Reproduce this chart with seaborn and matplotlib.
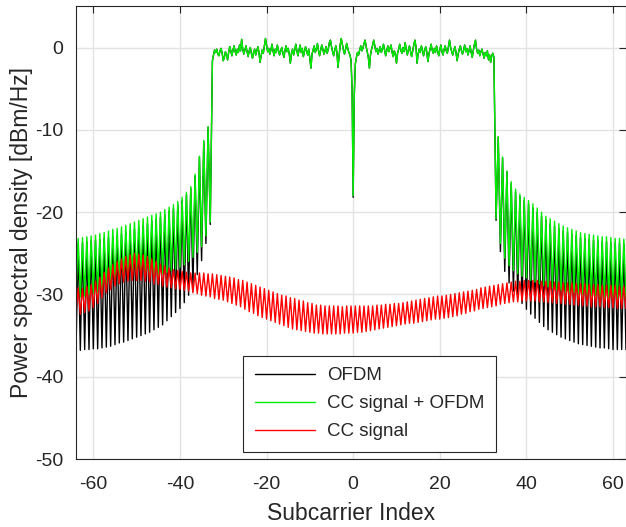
import numpy as np
import pandas as pd
import matplotlib
matplotlib.use("Agg")
import matplotlib.pyplot as plt
import seaborn as sns

# ---------------- data ----------------
series_names = ["OFDM", "CC signal + OFDM", "CC signal"]
series_colors = ["#000000", "#00ee00", "#ff0000"]

# OFDM, out-of-band, left side: troughs at -64..-33, peaks at -63.5..-33.5
ofdm_trough_left = [-36.7, -36.8, -36.7, -36.7, -36.6, -36.6, -36.5, -36.4, -36.3, -36.1,
                    -35.9, -35.8, -35.6, -35.4, -35.2, -35.0, -34.8, -34.6, -34.3, -34.0,
                    -33.7, -33.2, -32.7, -32.2, -31.7, -31.0, -30.1, -29.0, -27.6, -25.9,
                    -23.8, -21.5]
ofdm_peak_left = [-23.8, -23.7, -23.6, -23.5, -23.4, -23.3, -23.2, -23.1, -23.0, -22.9,
                  -22.7, -22.5, -22.3, -22.1, -21.9, -21.7, -21.4, -21.1, -20.9, -20.6,
                  -20.3, -19.9, -19.6, -19.1, -18.6, -17.9, -17.1, -15.6, -13.3, -11.4,
                  -9.7]
# OFDM, out-of-band, right side: troughs at 33..63, peaks at 33.5..62.5
ofdm_trough_right = [-21.0, -24.8, -27.2, -28.6, -29.6, -30.4, -31.1, -31.8, -32.4, -32.9,
                     -33.4, -33.9, -34.3, -34.6, -34.9, -35.2, -35.4, -35.6, -35.8, -36.0,
                     -36.1, -36.2, -36.3, -36.4, -36.5, -36.5, -36.6, -36.7, -36.7, -36.7,
                     -36.7]
ofdm_peak_right = [-10.9, -13.4, -15.1, -16.5, -17.5, -18.1, -18.6, -19.0, -19.5, -20.0,
                   -20.5, -21.0, -21.4, -21.7, -22.0, -22.3, -22.5, -22.7, -22.9, -23.1,
                   -23.2, -23.3, -23.4, -23.5, -23.6, -23.6, -23.7, -23.8, -23.8, -23.9]
ofdm_dc = [-18.2]

# CC signal + OFDM, out-of-band
ccofdm_trough_left = [-30.2, -30.3, -30.2, -30.0, -29.9, -29.7, -29.5, -29.2, -28.9, -28.6,
                      -28.3, -28.0, -27.8, -27.6, -27.5, -27.5, -27.5, -27.6, -27.6, -27.6,
                      -27.5, -27.3, -27.1, -26.9, -26.7, -26.4, -26.0, -25.5, -24.9, -24.2,
                      -22.9, -21.2]
ccofdm_peak_left = [-23.2, -23.1, -23.0, -22.9, -22.8, -22.6, -22.5, -22.3, -22.1, -22.0,
                    -21.8, -21.6, -21.4, -21.2, -21.0, -20.8, -20.6, -20.4, -20.2, -20.0,
                    -19.7, -19.4, -19.1, -18.7, -18.2, -17.6, -16.9, -15.4, -13.2, -11.3,
                    -9.6]
ccofdm_trough_right = [-20.8, -23.8, -25.6, -26.5, -27.1, -27.5, -27.8, -28.0, -28.3, -28.5,
                       -28.7, -28.9, -29.1, -29.2, -29.4, -29.5, -29.6, -29.7, -29.8, -29.9,
                       -30.0, -30.1, -30.2, -30.2, -30.3, -30.3, -30.4, -30.4, -30.5, -30.5,
                       -30.5]
ccofdm_peak_right = [-10.8, -13.3, -15.0, -16.3, -17.2, -17.8, -18.2, -18.6, -19.0, -19.5,
                     -20.0, -20.5, -20.8, -21.1, -21.4, -21.7, -21.9, -22.1, -22.3, -22.5,
                     -22.6, -22.7, -22.8, -22.9, -23.0, -23.0, -23.1, -23.2, -23.2, -23.3]
ccofdm_dc = [-18.0]

# In-band trace (both OFDM and CC+OFDM coincide there), quarter-subcarrier steps
inband_left = [-1.6, -0.9, -0.3, -0.6, -0.2, -0.8, -1.0, -0.4,
               -0.1, -0.7, -1.6, -1.2, -0.5, -0.9, -1.5, -0.6,
               0.1, -0.4, -1.0, -0.3, 0.2, -0.5, -0.9, -0.2,
               -0.6, 0.3, -0.4, 1.0, -0.2, -0.8, -0.3, 0.2,
               -0.5, -1.1, -0.4, 0.0, -0.7, -1.3, -0.6, -0.2,
               -0.9, -0.4, 0.1, -0.6, -1.8, -1.0, -0.3, -0.7,
               0.2, 1.1, 0.3, -0.5, -0.1, -0.8, -0.3, 0.4,
               -0.4, -1.0, -0.2, -0.6, 0.3, -0.3, -0.9, -0.5,
               0.0, -0.6, -1.2, -0.4, 0.2, -0.5, -0.1, -0.8,
               -1.9, -0.7, -0.2, -0.9, -0.3, 0.4, -0.4, -1.0,
               -0.3, 0.3, -0.6, -0.1, -1.1, -0.5, 0.1, -0.4,
               -0.9, -0.2, -1.4, -2.5, -0.8, -0.3, 0.2, -0.6,
               -0.2, 0.5, -0.4, -1.0, -0.3, 0.3, -0.2, -0.8,
               -0.4, 0.1, -0.7, -0.2, 0.6, 0.9, 0.1, -0.5,
               -1.0, -0.3, 0.2, -0.6, -2.4, -1.0, 0.3, 1.1,
               0.4, -0.3, -0.8, -0.2, 0.5, -0.1, -0.6, -0.9,
               -1.5, -5.0]
inband_right = [-6.0, -2.0,
                -1.2, -0.6, -0.9, -0.3, 0.2, -0.4, -0.1, 0.5,
                0.9, 0.1, -0.5, -1.2, -2.5, -0.9, -0.2, 0.3,
                0.9, 0.2, -0.5, -0.1, -0.8, -0.3, 0.1, -0.6,
                -0.2, 0.4, -0.3, -1.0, -0.4, 0.2, -0.5, -0.1,
                0.3, -0.6, -1.1, -0.4, -0.8, -1.9, -0.7, -0.2,
                0.4, -0.3, -0.7, 0.0, -0.5, 0.6, -0.2, -0.9,
                -0.3, 0.2, -0.5, -1.1, -0.4, 0.3, 0.9, 0.1,
                -1.9, -0.8, -0.2, -0.6, 0.2, -0.3, -1.0, -0.4,
                0.1, -0.5, -1.7, -0.8, -0.2, 0.4, -0.3, -0.7,
                -0.1, -0.6, 0.2, -0.4, -1.0, -0.3, 0.3, -0.5,
                -0.9, -0.2, 0.2, -0.4, -0.7, 0.1, 0.9, 0.0,
                -0.5, -0.9, -0.3, 0.1, -0.6, -1.6, -0.8, -0.2,
                0.2, -0.4, -0.8, -0.3, 0.3, -0.5, -0.1, -0.9,
                -0.4, 0.2, -0.6, -1.2, -0.3, 0.4, 0.9, -0.2,
                -0.7, -0.3, -1.0, -0.5, -0.2, -0.8, -1.3, -0.6,
                -1.0, -0.4, -1.5, -0.9, -1.8, -1.0, -0.7, -1.2]

# CC signal: peaks at -63.5..62.5, troughs at -64..63
cc_peak = [-29.2, -29.3, -29.0, -28.8, -28.4, -27.9, -27.3, -26.8, -26.4, -26.0,
           -25.7, -25.4, -25.2, -25.0, -25.1, -25.2, -25.4, -25.7, -26.0, -26.3,
           -26.5, -26.8, -27.0, -27.1, -27.2, -27.3, -27.4, -27.4, -27.4, -27.4,
           -27.5,
           -27.5, -27.6, -27.7, -27.8, -27.9, -28.0, -28.2, -28.3, -28.5, -28.7,
           -28.9, -29.1, -29.3, -29.5, -29.7, -29.9, -30.1, -30.2, -30.4, -30.5,
           -30.7, -30.8, -31.0, -31.1, -31.3, -31.3, -31.4, -31.4, -31.4, -31.4,
           -31.5, -31.4, -31.4, -31.4, -31.4, -31.4, -31.4, -31.4, -31.3, -31.3,
           -31.2, -31.2, -31.1, -31.1, -31.0, -30.9, -30.8, -30.7, -30.6, -30.5,
           -30.4, -30.3, -30.2, -30.2, -30.1, -30.0, -29.9, -29.8, -29.7, -29.6,
           -29.5, -29.4, -29.2, -29.1, -29.0, -28.9,
           -28.8, -28.7, -28.6, -28.5, -28.4, -28.4, -28.3, -28.3, -28.3, -28.3,
           -28.4, -28.4, -28.4, -28.5, -28.5, -28.6, -28.6, -28.6, -28.7, -28.7,
           -28.7, -28.8, -28.8, -28.8, -28.9, -28.9, -28.9, -28.9, -29.0, -29.0]
cc_trough = [-32.3, -32.4, -32.2, -32.0, -31.6, -31.1, -30.4, -29.8, -29.4, -29.0,
             -28.7, -28.5, -28.4, -28.3, -28.3, -28.3, -28.4, -28.5, -28.7, -28.8,
             -29.0, -29.1, -29.2, -29.3, -29.4, -29.5, -29.6, -29.8, -29.9, -30.1,
             -30.2, -30.3,
             -30.5, -30.6, -30.7, -30.9, -31.1, -31.3, -31.5, -31.8, -32.1, -32.3,
             -32.6, -32.8, -33.0, -33.2, -33.4, -33.6, -33.8, -34.0, -34.2, -34.3,
             -34.4, -34.5, -34.6, -34.7, -34.7, -34.8, -34.8, -34.8, -34.8, -34.8,
             -34.7, -34.7, -34.7, -34.6, -34.6, -34.5, -34.4, -34.3, -34.2, -34.1,
             -34.0, -33.9, -33.8, -33.7, -33.6, -33.5, -33.5, -33.4, -33.3, -33.2,
             -33.1, -33.0, -33.0, -32.9, -32.8, -32.7, -32.6, -32.4, -32.3, -32.1,
             -32.0, -31.8, -31.7, -31.6, -31.5,
             -31.4, -31.2, -31.1, -31.0, -30.9, -30.9, -30.8, -30.8, -30.8, -30.8,
             -30.9, -30.9, -31.0, -31.0, -31.1, -31.1, -31.2, -31.2, -31.3, -31.3,
             -31.4, -31.4, -31.5, -31.5, -31.5, -31.6, -31.6, -31.6, -31.7, -31.7,
             -31.7]

x_ticks = [-60, -40, -20, 0, 20, 40, 60]
y_ticks = [-50, -40, -30, -20, -10, 0]


def seg(start, step, vals):
    return pd.DataFrame({"x": start + step * np.arange(len(vals)), "y": vals})


def build(name, parts):
    d = pd.concat(parts, ignore_index=True).sort_values("x")
    d["series"] = name
    return d


ofdm = build(series_names[0], [
    seg(-64, 1, ofdm_trough_left), seg(-63.5, 1, ofdm_peak_left),
    seg(-32.5, 0.25, inband_left), seg(0, 1, ofdm_dc), seg(0.25, 0.25, inband_right),
    seg(33, 1, ofdm_trough_right), seg(33.5, 1, ofdm_peak_right)])
ccofdm = build(series_names[1], [
    seg(-64, 1, ccofdm_trough_left), seg(-63.5, 1, ccofdm_peak_left),
    seg(-32.5, 0.25, inband_left), seg(0, 1, ccofdm_dc), seg(0.25, 0.25, inband_right),
    seg(33, 1, ccofdm_trough_right), seg(33.5, 1, ccofdm_peak_right)])
cc = build(series_names[2], [seg(-63.5, 1, cc_peak), seg(-64, 1, cc_trough)])
df = pd.concat([ofdm, ccofdm, cc], ignore_index=True)

# ---------------- figure ----------------
sns.set_style("white")
plt.rcParams["font.family"] = ["Liberation Sans", "DejaVu Sans"]
plt.rcParams["axes.unicode_minus"] = False

fig = plt.figure(figsize=(6.26, 5.27), dpi=100)
ax = fig.add_axes([76 / 626, 68 / 527, 1 - 76 / 626, (459 - 6.4) / 527])

sns.lineplot(data=df, x="x", y="y", hue="series", hue_order=series_names,
             palette=series_colors, estimator=None, sort=True, linewidth=1.0, ax=ax)

ax.set_xlim(-64, 63)
ax.set_ylim(-50, 5)
ax.set_xticks(x_ticks)
ax.set_yticks(y_ticks)
ax.grid(True, color="#e3e3e3", linewidth=1.0)
ax.set_axisbelow(True)
for sp in ax.spines.values():
    sp.set_color("#262626")
    sp.set_linewidth(0.8)
ax.tick_params(direction="in", length=5, width=0.8, top=True, right=True,
               labelsize=14, colors="#262626")
ax.tick_params(axis="x", pad=12)
ax.tick_params(axis="y", pad=9)
ax.set_xlabel("Subcarrier Index", fontsize=16.5, color="#262626", labelpad=7)
ax.set_ylabel("Power spectral density [dBm/Hz]", fontsize=16.5, color="#262626",
              labelpad=1.5)

sns.move_legend(ax, loc="lower left", bbox_to_anchor=(0.3036, 0.0155), title=None,
                frameon=True, fancybox=False, edgecolor="#262626", framealpha=1,
                fontsize=13.5, handlelength=3.2, handletextpad=0.65, labelspacing=0.58,
                borderpad=0.62, borderaxespad=0)
leg = ax.get_legend()
leg.get_frame().set_linewidth(0.8)
for ln in leg.get_lines():
    ln.set_linewidth(1.0)

fig.savefig("out.png", dpi=100)
